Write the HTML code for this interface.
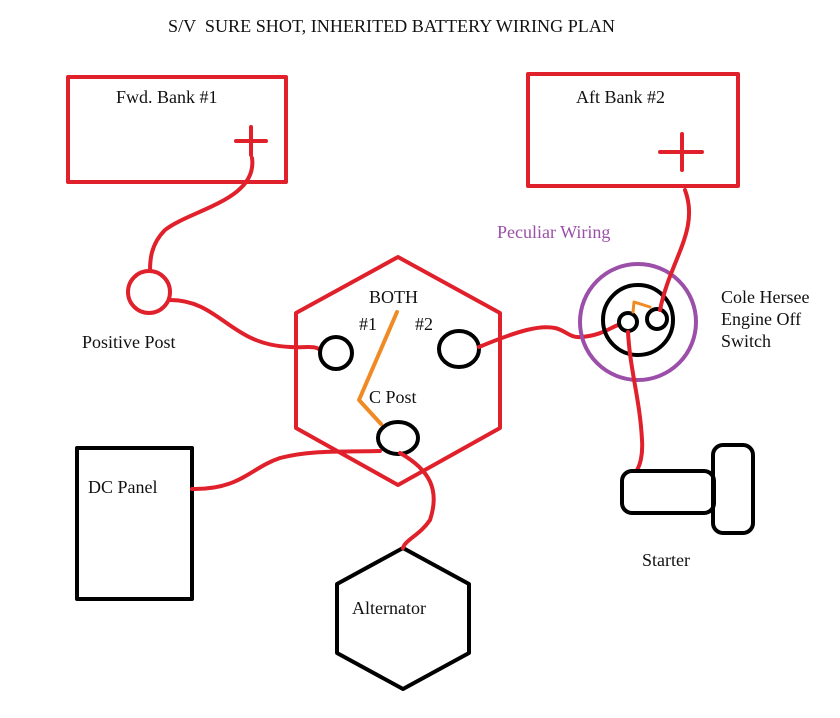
<!DOCTYPE html>
<html><head><meta charset="utf-8"><style>
html,body{margin:0;padding:0;background:#fff}
svg{display:block}
text{font-family:"Liberation Serif",serif;font-size:18px;fill:#111}
</style></head><body>
<svg width="840" height="718" viewBox="0 0 840 718" xmlns="http://www.w3.org/2000/svg">
<text x="168" y="32" font-size="17" textLength="447" lengthAdjust="spacingAndGlyphs" xml:space="preserve">S/V  SURE SHOT, INHERITED BATTERY WIRING PLAN</text>
<g fill="none" stroke-linecap="round" stroke-linejoin="round">
<rect x="68" y="77" width="218" height="105" stroke="#e0202a" stroke-width="4"/>
<rect x="528" y="74" width="210" height="112" stroke="#e0202a" stroke-width="4"/>
<path d="M236 141 H266 M251 127 V155" stroke="#e0202a" stroke-width="4"/>
<path d="M660 152 H702 M682 134 V170" stroke="#e0202a" stroke-width="4"/>
<circle cx="149" cy="292" r="21" stroke="#e0202a" stroke-width="4"/>
<path d="M252 158 C258 200 190 210 165 230 C150 245 150 262 150 271" stroke="#e0202a" stroke-width="4"/>
<path d="M170 300 C220 300 230 345 290 347 C305 348 315 345 320 350" stroke="#e0202a" stroke-width="4"/>
<polygon points="398,257 500,313 500,428 398,485 296,428 296,313" stroke="#e0202a" stroke-width="4"/>
<ellipse cx="336" cy="353" rx="16" ry="16" stroke="#000" stroke-width="4"/>
<ellipse cx="459" cy="349" rx="20" ry="18" stroke="#000" stroke-width="4"/>
<ellipse cx="398" cy="438" rx="20" ry="16" stroke="#000" stroke-width="4"/>
<path d="M397 312 L359 400 L381 424" stroke="#f08a24" stroke-width="4"/>
<path d="M479 347 C520 330 540 325 555 328 C565 330 570 338 580 337 C600 336 610 328 618 325" stroke="#e0202a" stroke-width="4"/>
<circle cx="638" cy="322" r="58" stroke="#9b4fa8" stroke-width="4"/>
<circle cx="638" cy="320" r="35" stroke="#000" stroke-width="4"/>
<circle cx="628" cy="322" r="9" stroke="#000" stroke-width="4"/>
<circle cx="657" cy="319" r="10" stroke="#000" stroke-width="4"/>
<path d="M633 312 L634 302 L650 307" stroke="#f08a24" stroke-width="3"/>
<path d="M685 190 C700 230 670 260 660 310" stroke="#e0202a" stroke-width="4"/>
<path d="M628 332 C630 370 640 400 642 440 C643 455 640 465 637 470" stroke="#e0202a" stroke-width="4"/>
<rect x="622" y="471" width="92" height="42" rx="10" stroke="#000" stroke-width="4"/>
<rect x="713" y="445" width="40" height="88" rx="10" stroke="#000" stroke-width="4"/>
<rect x="77" y="448" width="115" height="151" stroke="#000" stroke-width="4"/>
<path d="M192 489 C240 490 250 468 280 458 C310 450 340 452 380 451" stroke="#e0202a" stroke-width="4"/>
<polygon points="403,548 469,584 469,653 403,689 337,653 337,584" stroke="#000" stroke-width="4"/>
<path d="M400 453 C430 470 440 490 430 520 C420 535 405 540 403 548" stroke="#e0202a" stroke-width="4"/>
</g>
<text x="116" y="103">Fwd. Bank #1</text>
<text x="576" y="103">Aft Bank #2</text>
<text x="497" y="238" style="fill:#9b4fa8">Peculiar Wiring</text>
<text x="82" y="348">Positive Post</text>
<text x="369" y="303">BOTH</text>
<text x="359" y="330">#1</text>
<text x="415" y="330">#2</text>
<text x="369" y="403">C Post</text>
<text x="721" y="303">Cole Hersee</text>
<text x="721" y="325">Engine Off</text>
<text x="721" y="347">Switch</text>
<text x="88" y="493">DC Panel</text>
<text x="642" y="566">Starter</text>
<text x="352" y="614">Alternator</text>
</svg>
</body></html>
